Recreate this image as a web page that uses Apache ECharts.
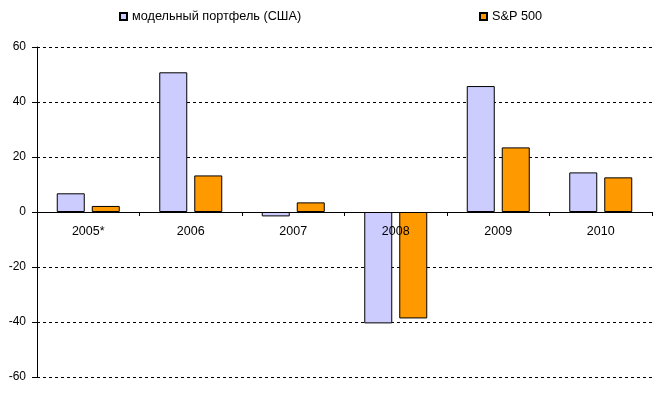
<!DOCTYPE html>
<html><head><meta charset="utf-8">
<script src="https://cdn.jsdelivr.net/npm/echarts@6/dist/echarts.min.js"></script>
<style>html,body{margin:0;padding:0;background:#fff}#c{width:663px;height:400px}</style>
</head><body><div id="c"></div>
<script>
const categories = ['2005*', '2006', '2007', '2008', '2009', '2010'];
const portfolio = [6.8, 50.8, -1.6, -40.5, 45.8, 14.4];
const sp500 = [2.2, 13.3, 3.5, -38.7, 23.5, 12.6];
const seriesNames = ['модельный портфель (США)', 'S&P 500'];

const chart = echarts.init(document.getElementById('c'));
const font = 'Arial, "Liberation Sans", sans-serif';
chart.setOption({
  animation: false,
  legend: [
    { data: [seriesNames[0]], left: 114, top: 5, icon: 'rect', itemWidth: 7, itemHeight: 7, itemGap: 4,
      textStyle: { fontFamily: font, fontSize: 12.7, color: '#000' } },
    { data: [seriesNames[1]], left: 474, top: 5, icon: 'rect', itemWidth: 7, itemHeight: 7, itemGap: 4,
      textStyle: { fontFamily: font, fontSize: 12.7, color: '#000' } }
  ],
  grid: { left: 37, right: 11, top: 47, bottom: 23, containLabel: false },
  xAxis: {
    type: 'category', data: categories,
    offset: -165, z: 5,
    axisLine: { onZero: false, lineStyle: { color: '#000', width: 1 } },
    axisTick: { show: true, length: 4, lineStyle: { color: '#000' } },
    axisLabel: { fontFamily: font, fontSize: 12.5, color: '#000', margin: 13 }
  },
  yAxis: {
    type: 'value', min: -60, max: 60, interval: 20,
    axisLine: { show: true, lineStyle: { color: '#000' } },
    axisTick: { show: true, length: 5, lineStyle: { color: '#000' } },
    axisLabel: { fontFamily: font, fontSize: 12, color: '#000', margin: 11 },
    splitLine: { show: true, lineStyle: { color: '#000', type: [3, 3], width: 1 } }
  },
  series: [
    { name: seriesNames[0], type: 'bar', data: portfolio, barWidth: 28, barGap: '25%',
      itemStyle: { color: '#ccccff', borderColor: '#000', borderWidth: 1 } },
    { name: seriesNames[1], type: 'bar', data: sp500, barWidth: 28,
      itemStyle: { color: '#ff9900', borderColor: '#000', borderWidth: 1 } }
  ]
});
</script></body></html>
